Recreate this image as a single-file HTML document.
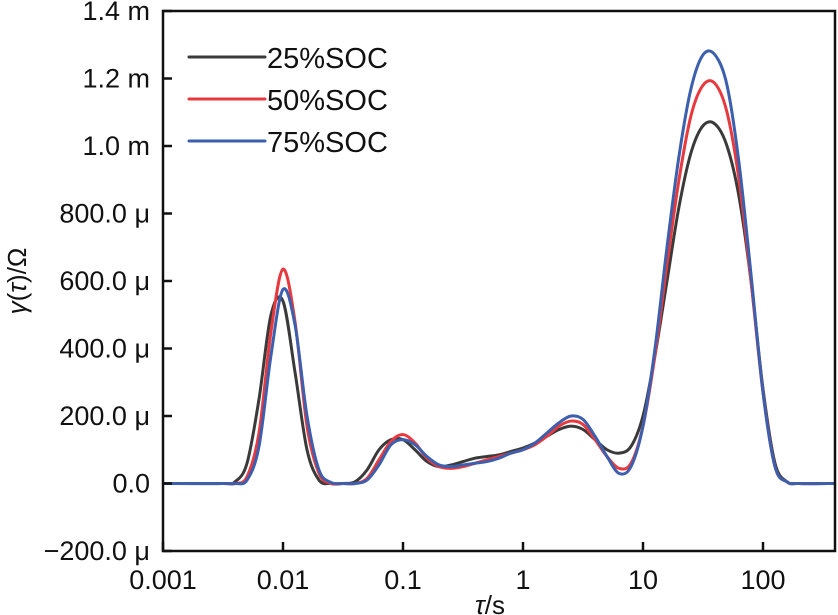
<!DOCTYPE html>
<html><head><meta charset="utf-8"><style>
body{margin:0;background:#fff}
svg{display:block;font-family:"Liberation Sans",sans-serif}
</style></head><body>
<svg id="chart" width="838" height="615" viewBox="0 0 838 615" xmlns="http://www.w3.org/2000/svg"></svg>
<script>
const logTau=[-3,-2.5,-2.4,-2.3,-2.2,-2.1,-2.0,-1.9,-1.8,-1.7,-1.6,-1.5,-1.4,-1.3,-1.2,-1.1,-1.0,-0.9,-0.8,-0.7,-0.6,-0.5,-0.4,-0.3,-0.2,-0.1,0,0.1,0.2,0.3,0.4,0.5,0.6,0.7,0.8,0.9,1.0,1.1,1.2,1.3,1.4,1.5,1.6,1.7,1.8,1.9,2.0,2.1,2.2,2.3,2.6];
const soc25=[0,0,5,60,250,500,540,330,100,10,0,0,5,40,100,130,130,100,65,50,55,65,75,80,85,95,105,120,140,160,170,160,130,100,90,110,200,380,600,820,980,1060,1065,1000,850,600,280,60,5,0,0];
const soc50=[0,0,0,20,150,450,635,480,170,30,0,0,0,15,70,125,145,120,75,50,45,50,60,70,80,90,100,115,140,170,185,175,130,80,45,60,170,380,650,900,1090,1180,1185,1100,900,600,270,50,5,0,0];
const soc75=[0,0,0,10,110,380,575,470,200,40,3,0,0,10,55,115,130,115,80,55,50,55,60,65,75,90,100,120,150,180,200,190,140,80,30,50,170,400,700,970,1170,1270,1270,1180,950,620,270,50,5,0,0];
const yTicks=[-200,0,200,400,600,800,1000,1200,1400];
const yTickLabels=["\u2212200.0 \u03bc","0.0","200.0 \u03bc","400.0 \u03bc","600.0 \u03bc","800.0 \u03bc","1.0 m","1.2 m","1.4 m"];
const xTicks=[-3,-2,-1,0,1,2];
const xTickLabels=["0.001","0.01","0.1","1","10","100"];
const seriesNames=["25%SOC","50%SOC","75%SOC"];
const seriesColors=["#3b3a3a","#e8393e","#3c5fae"];
const seriesData=[soc25,soc50,soc75];

const L=163,R=835,T=11,B=551;
const xs=v=>L+(v+3)/5.6*(R-L);
const ys=v=>B-(v+200)/1600*(B-T);
const svg=document.getElementById('chart');
const NS='http://www.w3.org/2000/svg';
function mk(tag,attrs,parent){const e=document.createElementNS(NS,tag);for(const k in attrs)e.setAttribute(k,attrs[k]);(parent||svg).appendChild(e);return e;}

const clip=mk('clipPath',{id:'pc'});mk('rect',{x:L,y:T,width:R-L,height:B-T},clip);
seriesData.forEach((d,si)=>{
  const p=logTau.map((t,i)=>[xs(t),ys(d[i])]);
  let s='M'+p[0][0]+','+p[0][1];
  for(let i=0;i<p.length-1;i++){
    const p0=p[Math.max(0,i-1)],p1=p[i],p2=p[i+1],p3=p[Math.min(p.length-1,i+2)];
    const c1=[p1[0]+(p2[0]-p0[0])/6,p1[1]+(p2[1]-p0[1])/6];
    const c2=[p2[0]-(p3[0]-p1[0])/6,p2[1]-(p3[1]-p1[1])/6];
    s+=`C${c1[0]},${c1[1]} ${c2[0]},${c2[1]} ${p2[0]},${p2[1]}`;
  }
  const path=mk('path',{d:s,fill:'none',stroke:seriesColors[si],'stroke-width':3,'stroke-linejoin':'round','clip-path':'url(#pc)'});
  
  
});

const fr=mk('rect',{x:L,y:T,width:R-L,height:B-T,fill:'none',stroke:'#111','stroke-width':2.5});



yTicks.forEach((v,i)=>{
  const y=ys(v);
  const tk=mk('line',{x1:L,x2:L+9,y1:y,y2:y,stroke:'#111','stroke-width':2.5});
  
  
  const t=mk('text',{x:150,y:y+9,'text-anchor':'end','font-size':27,fill:'#111'});
  t.textContent=yTickLabels[i];
  
  
});
xTicks.forEach((v,i)=>{
  const x=xs(v);
  const tk=mk('line',{x1:x,x2:x,y1:B,y2:B-9,stroke:'#111','stroke-width':2.5});
  
  
  const t=mk('text',{x:x,y:589,'text-anchor':'middle','font-size':27,fill:'#111'});
  t.textContent=xTickLabels[i];
  
  
});

const xt=mk('text',{x:490,y:614,'text-anchor':'middle','font-size':26,fill:'#111'});
xt.innerHTML='<tspan font-style="italic">τ</tspan>/s';


const yt=mk('text',{x:0,y:0,'text-anchor':'middle','font-size':26,fill:'#111',transform:'translate(26,281) rotate(-90)'});
yt.innerHTML='<tspan font-style="italic">γ</tspan>(<tspan font-style="italic">τ</tspan>)/Ω';



seriesNames.forEach((n,i)=>{
  const y=57+i*42;
  const g=mk('g',{});
  
  
  mk('line',{x1:189,x2:265,y1:y,y2:y,stroke:seriesColors[i],'stroke-width':3,'stroke-linecap':'round'},g);
  const t=mk('text',{x:267,y:y+11,'font-size':29,fill:'#111'},g);
  t.textContent=n;
});
</script>
</body></html>
